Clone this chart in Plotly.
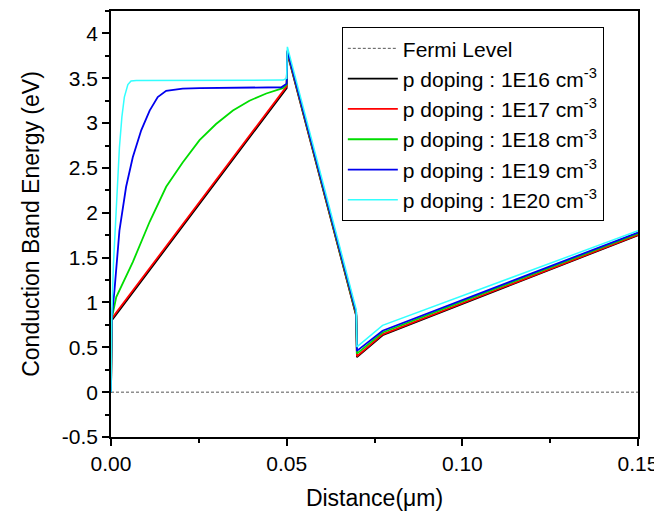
import plotly.graph_objects as go

# Distance (um) and conduction band energy (eV)
x_fermi = [0.0, 0.15]
y_fermi = [0.0, 0.0]

# right-hand part of the structure, shared by every doping level
x_right = [0.0502, 0.0698, 0.0700, 0.0773, 0.15]

x_1e16 = [0.0, 0.0002, 0.05]
y_1e16 = [0.0, 0.80, 3.39]
y_1e16_right = [3.78, 0.85, 0.39, 0.635, 1.75]

x_1e17 = [0.0, 0.0002, 0.05]
y_1e17 = [0.0, 0.82, 3.41]
y_1e17_right = [3.79, 0.86, 0.40, 0.645, 1.755]

x_1e18 = [0.0, 0.0002, 0.0015, 0.0062, 0.011, 0.0157, 0.0204, 0.0252,
          0.0299, 0.0347, 0.0394, 0.0442, 0.0489, 0.05]
y_1e18 = [0.0, 0.82, 1.06, 1.45, 1.90, 2.29, 2.56, 2.81,
          2.99, 3.14, 3.25, 3.33, 3.39, 3.43]
y_1e18_right = [3.80, 0.87, 0.43, 0.665, 1.77]

x_1e19 = [0.0, 0.0002, 0.001, 0.0024, 0.0043, 0.0062, 0.0086, 0.011,
          0.0133, 0.0157, 0.0204, 0.0252, 0.0485, 0.05]
y_1e19 = [0.0, 0.82, 1.14, 1.80, 2.29, 2.62, 2.92, 3.14,
          3.29, 3.36, 3.385, 3.39, 3.40, 3.44]
y_1e19_right = [3.81, 0.89, 0.46, 0.685, 1.78]

x_1e20 = [0.0, 0.0002, 0.0007, 0.0017, 0.0024, 0.0031, 0.0038, 0.0048,
          0.0057, 0.0072, 0.049, 0.05]
y_1e20 = [0.0, 0.82, 1.43, 2.17, 2.73, 3.07, 3.29, 3.43,
          3.47, 3.475, 3.48, 3.50]
y_1e20_right = [3.85, 0.92, 0.505, 0.745, 1.80]

names = ["1E16", "1E17", "1E18", "1E19", "1E20"]
colors = ["#000000", "#ff0000", "#00dd00", "#0000ee", "#33ffff"]
widths = [1.8, 1.8, 1.8, 1.8, 1.5]
xs = [x_1e16, x_1e17, x_1e18, x_1e19, x_1e20]
ys = [y_1e16, y_1e17, y_1e18, y_1e19, y_1e20]
ys_right = [y_1e16_right, y_1e17_right, y_1e18_right, y_1e19_right, y_1e20_right]

yticks = [-0.5, 0, 0.5, 1, 1.5, 2, 2.5, 3, 3.5, 4]
yticktext = ["-0.5", "0", "0.5", "1", "1.5", "2", "2.5", "3", "3.5", "4"]
xticks = [0.0, 0.05, 0.10, 0.15]
xticktext = ["0.00", "0.05", "0.10", "0.15"]

font = "Arial, Liberation Sans, sans-serif"

fig = go.Figure()
fig.add_trace(go.Scatter(x=x_fermi, y=y_fermi, mode="lines", name="Fermi Level",
                         line=dict(color="#555555", width=1, dash="3px,2px")))
for i in range(len(names)):
    fig.add_trace(go.Scatter(x=xs[i] + x_right, y=ys[i] + ys_right[i], mode="lines",
                             name="p doping : " + names[i] + " cm<sup>-3</sup>",
                             line=dict(color=colors[i], width=widths[i])))

axis_style = dict(showline=True, linecolor="black", linewidth=1.5, mirror=True,
                  ticks="outside", ticklen=7, tickwidth=1.5, tickcolor="black",
                  showgrid=False, zeroline=False, automargin=False,
                  tickfont=dict(family=font, size=21, color="black"))

fig.update_xaxes(range=[0, 0.15], tickvals=xticks, ticktext=xticktext,
                 minor=dict(dtick=0.025, tick0=0, ticks="outside", ticklen=4,
                            tickwidth=1.5, tickcolor="black"),
                 title=dict(text="Distance(\u03bcm)", standoff=16,
                            font=dict(family=font, size=23, color="black")),
                 **axis_style)
fig.update_yaxes(range=[-0.5, 4.25], tickvals=yticks, ticktext=yticktext,
                 minor=dict(dtick=0.25, tick0=0, ticks="outside", ticklen=4,
                            tickwidth=1.5, tickcolor="black"),
                 title=dict(text="Conduction Band Energy (eV)", standoff=16,
                            font=dict(family=font, size=23, color="black")),
                 **axis_style)

# the page body adds 8px on the top and left, so the figure is kept 8px smaller
fig.update_layout(
    width=654, height=509,
    margin=dict(l=103, r=24, t=3, b=80),
    plot_bgcolor="white", paper_bgcolor="white",
    font=dict(family=font, color="black"),
    legend=dict(x=0.438, y=0.962, xanchor="left", yanchor="top",
                bgcolor="white", bordercolor="black", borderwidth=1,
                itemwidth=50, font=dict(family=font, size=21, color="black"),
                tracegroupgap=0),
)

fig.write_html("out.html")
